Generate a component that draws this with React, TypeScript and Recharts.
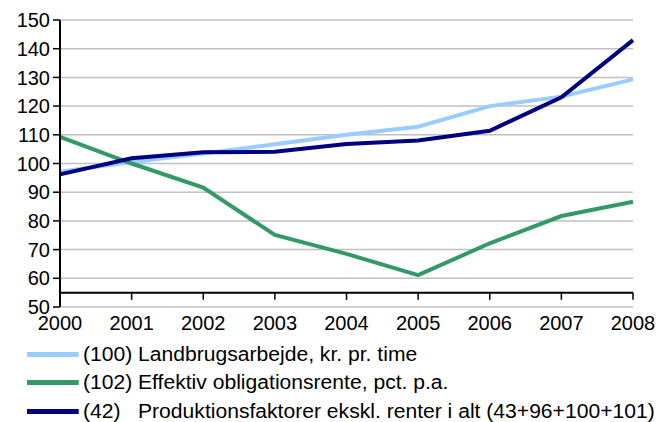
import React from 'react';
import {
    LineChart,
    Line,
    XAxis,
    YAxis,
    CartesianGrid,
    ReferenceLine,
} from 'recharts';

const years = ['2000', '2001', '2002', '2003', '2004', '2005', '2006', '2007', '2008'];
const landbrugsarbejde = [97.1, 100.5, 103.5, 106.7, 110.0, 112.8, 120.0, 123.3, 129.3];
const obligationsrente = [109.3, 100.0, 91.6, 75.1, 68.5, 61.1, 72.2, 81.7, 86.7];
const produktionsfaktorer = [96.2, 101.8, 103.9, 104.1, 106.8, 108.0, 111.4, 123.1, 143.0];
const yTicks = [50, 60, 70, 80, 90, 100, 110, 120, 130, 140, 150];

const seriesInfo = [
    { key: 'a', label: '(100) Landbrugsarbejde, kr. pr. time', color: '#99CCFF' },
    { key: 'b', label: '(102) Effektiv obligationsrente, pct. p.a.', color: '#339966' },
    { key: 'c', label: '(42)\u00a0\u00a0\u00a0Produktionsfaktorer ekskl. renter i alt (43+96+100+101)', color: '#000080' },
];

const data = years.map((year, i) => ({
    year,
    a: landbrugsarbejde[i],
    b: obligationsrente[i],
    c: produktionsfaktorer[i],
}));

const font = '"Liberation Sans", Arial, sans-serif';

const LegendBox = () => (
    <div
        style={{
            position: 'absolute',
            left: 27,
            top: 340,
            fontFamily: font,
            fontSize: 20,
            color: '#000',
            transform: 'scaleX(1.055)',
            transformOrigin: 'left top',
            whiteSpace: 'nowrap',
        }}
    >
        {seriesInfo.map((s) => (
            <div key={s.key} style={{ display: 'flex', alignItems: 'center', height: 28.5 }}>
                <span style={{ display: 'inline-block', width: 49, height: 5, background: s.color, marginRight: 4 }} />
                <span>{s.label}</span>
            </div>
        ))}
    </div>
);

const App: React.FC = () => {
    return (
        <div style={{ position: 'relative', width: 666, height: 422, background: '#fff', overflow: 'hidden' }}>
            <style>{'body { margin: 0; }'}</style>
            <LineChart
                width={666}
                height={422}
                data={data}
                margin={{ top: 20, right: 33, left: 0, bottom: 85 }}
            >
                <CartesianGrid horizontal vertical={false} stroke="#C0C0C0" strokeWidth={1.5} />
                <XAxis
                    dataKey="year"
                    axisLine={false}
                    tickLine={false}
                    height={30}
                    tick={{ fontSize: 20, fill: '#000', fontFamily: font }}
                    tickMargin={3}
                    interval={0}
                />
                <YAxis
                    domain={[50, 150]}
                    ticks={yTicks}
                    width={60}
                    interval={0}
                    axisLine={{ stroke: '#000', strokeWidth: 2 }}
                    tickLine={{ stroke: '#000', strokeWidth: 1.5 }}
                    tickSize={7}
                    tickMargin={3}
                    tick={{ fontSize: 20, fill: '#000', fontFamily: font }}
                />
                <ReferenceLine y={55} stroke="#000" strokeWidth={2} />
                {years.map((y) => (
                    <ReferenceLine
                        key={`t-${y}`}
                        segment={[{ x: y, y: 55 }, { x: y, y: 52.5 }]}
                        stroke="#000"
                        strokeWidth={1.5}
                    />
                ))}
                <Line type="linear" dataKey="a" stroke="#99CCFF" strokeWidth={4} dot={false} isAnimationActive={false} />
                <Line type="linear" dataKey="b" stroke="#339966" strokeWidth={4} dot={false} isAnimationActive={false} />
                <Line type="linear" dataKey="c" stroke="#000080" strokeWidth={4} dot={false} isAnimationActive={false} />
            </LineChart>
            <LegendBox />
        </div>
    );
};

export default App;
